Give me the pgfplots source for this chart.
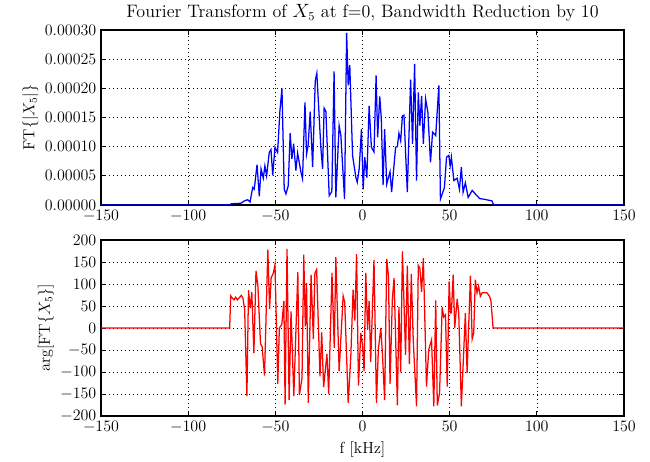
\documentclass[border=0pt]{standalone}
\usepackage{pgfplots}
\pgfplotsset{compat=1.18}

\pgfplotsset{
  mplpanel/.style={
    scale only axis,
    width=392.25pt,
    xmin=-150, xmax=150,
    xtick={-150,-100,...,150},
    grid=major,
    grid style={black, line width=0.5pt, dash pattern=on 0.6pt off 2.4pt},
    axis line style={black, line width=0.8pt},
    tick align=inside,
    major tick length=3.5pt,
    minor tick num=0,
    every tick/.style={black, line width=0.6pt},
    tick label style={font=\fontsize{12}{14}\selectfont},
    label style={font=\fontsize{12}{14}\selectfont},
    title style={font=\fontsize{13.5}{16}\selectfont, yshift=-3pt},
  },
}

\begin{document}
\begin{tikzpicture}
\path[use as bounding box] (0,0) rectangle (487.5pt,345.75pt);

% magnitude
\begin{axis}[
  mplpanel,
  at={(75.75pt,192pt)}, anchor=south west,
  height=131.25pt,
  ymin=0, ymax=0.0003,
  ytick={0,0.00005,0.0001,0.00015,0.0002,0.00025,0.0003},
  yticklabels={0.00000,0.00005,0.00010,0.00015,0.00020,0.00025,0.00030},
  scaled y ticks=false,
  title={Fourier Transform of $X_5$ at f=0, Bandwidth Reduction by 10},
  ylabel={$\mathrm{FT}\{|X_5|\}$},
  ylabel style={yshift=-2pt},
]
\addplot[blue, line width=0.95pt] coordinates {
(-150,0) (-76,0)
(-75.4,0.000002) (-69.7,0.000003) (-67.8,0.000007) (-65.9,0.000009) (-64.5,0.000005)
(-63,0.00003) (-62.1,0.000027) (-60.5,0.000069) (-59.2,0.000015) (-58.2,0.000062)
(-56.9,0.000046) (-56,0.000067) (-55,0.00005) (-53.5,0.00009) (-52.5,0.000095)
(-51.5,0.000051) (-50.2,0.000099) (-48.7,0.00009) (-47.4,0.00016) (-46.2,0.0002)
(-44.9,0.000027) (-43.9,0.000019) (-42.6,0.000033) (-41.5,0.000123) (-40.5,0.000079)
(-39.5,0.000105) (-38.2,0.000059) (-37.2,0.000089) (-35.3,0.000056) (-34.4,0.000045)
(-33,0.000176) (-32.1,0.000087) (-31.2,0.000102) (-30,0.00016) (-28.6,0.000065)
(-27.1,0.000213) (-26.2,0.000226) (-23.9,0.000099) (-22.9,0.000062) (-22,0.000166)
(-21,0.00016) (-19.1,0.000016) (-17.6,0.000023) (-16.3,0.000229) (-15.3,0.000013)
(-13.4,0.000136) (-12.4,0.000119) (-10.3,0.00001) (-9.1,0.000295) (-8.2,0.000205)
(-7.3,0.00024) (-5.7,0.000085) (-3.8,0.000047) (-3,0.000039) (-1.9,0.000062)
(-0.6,0.00013) (0.4,0.000027) (1.3,0.000082) (2.5,0.000047) (3.8,0.00017)
(5.1,0.000099) (6.6,0.000091) (7.8,0.000222) (8.7,0.000116) (9.9,0.000186)
(10.8,0.000147) (11.8,0.000034) (12.7,0.00013) (13.9,0.000036) (15.8,0.000057)
(16.7,0.000022) (19,0.000099) (20,0.0001) (20.9,0.000123) (21.9,0.00011)
(22.9,0.000153) (23.8,0.000154) (25.7,0.000022) (27.6,0.000215) (28.7,0.000105)
(29.9,0.000242) (31,0.000042) (32,0.000193) (32.9,0.000136) (33.9,0.000187)
(34.9,0.000105) (36.2,0.000182) (37.5,0.000159) (39,0.000073) (40.2,0.000125)
(42,0.000119) (43.8,0.000205) (44.7,0.00001) (47,0.00003) (48.2,0.000082)
(49.5,0.000085) (50.3,0.000067) (51,0.000082) (52.4,0.000042) (54.3,0.000046)
(55.6,0.000027) (56.7,0.000065) (57.7,0.000022) (59,0.000038) (60.6,0.000013)
(62.9,0.000025) (64.7,0.000019) (67.2,0.000011) (69.5,0.00001) (74.3,0.000007)
(75.2,0) (150,0)
};
\end{axis}

% phase
\begin{axis}[
  mplpanel,
  at={(75.75pt,33.75pt)}, anchor=south west,
  height=132pt,
  ymin=-200, ymax=200,
  ytick={-200,-150,...,200},
  xlabel={f [kHz]},
  ylabel={$\arg[\mathrm{FT}\{X_5\}]$},
  ylabel style={yshift=-2pt},
]
\addplot[red, line width=0.95pt] coordinates {
(-150,0) (-76.2,0) (-75.6,73) (-74.7,68) (-73.7,64) (-72.8,70) (-71.8,64) (-70.9,68)
(-69.5,74) (-68.6,68) (-67.6,42) (-66.3,-155) (-65.4,86) (-64.4,45) (-63.5,82)
(-62.3,-57) (-61.1,130) (-60,95) (-58.5,-36) (-57.6,-42) (-56.2,-108) (-54.3,178)
(-53.3,43) (-52.4,114) (-51.1,125) (-50.2,144) (-48.6,-127) (-47.7,0) (-46.3,8)
(-45.1,61) (-44.4,-174) (-43.3,180) (-42.1,-164) (-41,38) (-39.4,-155) (-37.1,127)
(-36.2,-152) (-34.7,-114) (-33.7,167) (-32.8,4) (-32.1,102) (-31.1,-170) (-29.5,121)
(-28.2,-25) (-27.3,125) (-26.3,133) (-24.4,-110) (-23.4,-10) (-22.3,-134) (-20.4,-59)
(-19.4,-150) (-17.5,125) (-16.2,-45) (-15.3,161) (-13.4,-98) (-11.1,73) (-10.2,58)
(-8.2,-170) (-6.7,-64) (-5.4,87) (-4.4,17) (-3.4,168) (-2.3,-131) (-1,-11) (0,-38)
(0.9,-98) (1.9,125) (2.9,-4) (3.8,61) (4.7,-77) (6.6,155) (8,-170) (9.1,-49)
(10.5,0) (11.4,-57) (12.7,-164) (13.9,157) (14.9,117) (15.8,-127) (17.1,64)
(18.1,114) (20,-176) (20.9,48) (21.9,-101) (22.9,174) (24.7,-61) (25.7,142)
(26.9,-82) (28,123) (29.1,-27) (31,-178) (32,142) (32.9,136) (33.9,82) (34.9,159)
(36.7,-133) (38,-49) (39.6,-27) (40.9,-178) (42,63) (42.9,-176) (44.2,-148)
(45.7,47) (46.6,25) (47.6,30) (48.6,-133) (49.7,106) (50.5,34) (51,34) (52,121)
(52.9,0) (54.3,66) (55.2,34) (56.7,-178) (59,34) (60,-102) (61.9,119) (62.9,-25)
(63.8,-11) (64.7,110) (65.7,80) (66.6,95) (67.6,72) (68.6,80) (71.4,80) (72.9,72)
(73.7,61) (74.9,0) (150,0)
};
\end{axis}
\end{tikzpicture}
\end{document}
